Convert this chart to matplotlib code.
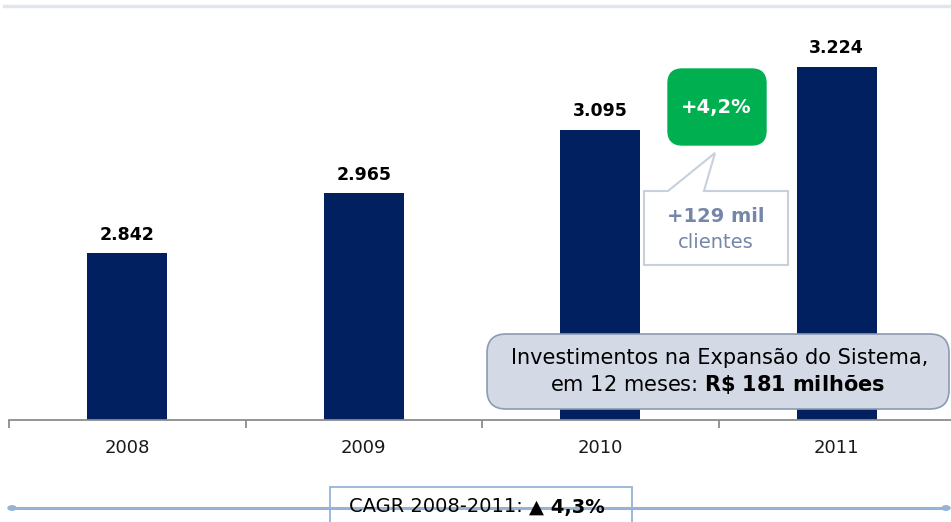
import matplotlib.pyplot as plt
from matplotlib.patches import FancyBboxPatch, Polygon, Circle
from matplotlib.lines import Line2D

years = ['2008', '2009', '2010', '2011']
clientes = [2842, 2965, 3095, 3224]
value_labels = ['2.842', '2.965', '3.095', '3.224']

W, H = 951, 522
NAVY = '#002060'
LIGHTBLUE = '#95b3d7'


def px(x, y):
    # pixel position (from top-left) -> figure fraction
    return x / W, 1 - y / H


fig = plt.figure(figsize=(W / 100, H / 100), dpi=100)
ax = fig.add_axes([9 / W, (H - 420) / H, 946 / W, 414 / H])

x = list(range(len(years)))
ax.bar(x, clientes, width=0.34, color=NAVY, zorder=2)
ax.set_xlim(-0.5, len(years) - 0.5)
ax.set_ylim(2500, 3349)

for xi, v, lab in zip(x, clientes, value_labels):
    ax.annotate(lab, (xi, v), xytext=(0, 7), textcoords='offset points',
                ha='center', va='bottom', fontsize=12.5, fontweight='bold',
                color='black')

for s in ['top', 'right', 'left']:
    ax.spines[s].set_visible(False)
ax.spines['bottom'].set_color('#8c8c8c')
ax.spines['bottom'].set_linewidth(1.3)
ax.set_yticks([])
ax.set_xticks(x)
ax.set_xticklabels(years, fontsize=13, color='#1a1a1a')
ax.set_xticks([i - 0.5 for i in x], minor=True)
ax.tick_params(axis='x', which='major', length=0, pad=14)
ax.tick_params(axis='x', which='minor', length=6, width=1.3, color='#8c8c8c')

# top decorative line
fig.add_artist(Line2D([4 / W, 1], [1 - 6 / H] * 2, color='#e0e6eb', lw=2.5))

# green growth box
gx0, gy0 = px(668, 145)
gx1, gy1 = px(766, 69)
fig.add_artist(FancyBboxPatch((gx0, gy0), gx1 - gx0, gy1 - gy0,
                              boxstyle='round,pad=0,rounding_size=0.015',
                              transform=fig.transFigure, fc='#00b050',
                              ec='#00b050', mutation_aspect=W / H))
fig.text(*px(716, 108), '+4,2%', color='white', fontsize=14,
         fontweight='bold', ha='center', va='center')

# callout with pointer
pts = [px(644, 191), px(668, 191), px(715, 153), px(704, 191),
       px(788, 191), px(788, 265), px(644, 265)]
fig.add_artist(Polygon(pts, closed=True, transform=fig.transFigure,
                       fc='white', ec='#c8d0dc', lw=1.5))
fig.text(*px(716, 217), '+129 mil', color='#7686a8', fontsize=14,
         fontweight='bold', ha='center', va='center')
fig.text(*px(716, 242), 'clientes', color='#7686a8', fontsize=14,
         ha='center', va='center')

# investment box
ix0, iy0 = px(487, 409)
ix1, iy1 = px(949, 334)
fig.add_artist(FancyBboxPatch((ix0, iy0), ix1 - ix0, iy1 - iy0,
                              boxstyle='round,pad=0,rounding_size=0.02',
                              transform=fig.transFigure, fc='#d3dae5',
                              ec='#8c9ab2', lw=1.2, mutation_aspect=W / H,
                              zorder=5))
fig.text(*px(720, 358), 'Investimentos na Expansão do Sistema,',
         fontsize=15, ha='center', va='center', zorder=6)
fig.text(*px(718, 384), 'em 12 meses: $\\bf{R\\$\\ 181\\ milhões}$',
         fontsize=15, ha='center', va='center', zorder=6)

# CAGR line at bottom
fig.add_artist(Line2D([12 / W, 946 / W], [1 - 508 / H] * 2,
                      color=LIGHTBLUE, lw=2.2))
for cx in (12, 946):
    fig.add_artist(Circle(px(cx, 508), 4 / W, transform=fig.transFigure,
                          fc=LIGHTBLUE, ec=LIGHTBLUE))
bx0, by0 = px(330, 530)
bx1, by1 = px(632, 487)
fig.add_artist(FancyBboxPatch((bx0, by0), bx1 - bx0, by1 - by0,
                              boxstyle='square,pad=0', transform=fig.transFigure,
                              fc='white', ec=LIGHTBLUE, lw=1.3))
t1 = fig.text(*px(349, 507), 'CAGR 2008-2011: ', fontsize=14,
              ha='left', va='center')
fig.canvas.draw()
bb = t1.get_window_extent()
fig.text(bb.x1 / W, 1 - 507 / H, '▲ 4,3%', fontsize=14, fontweight='bold',
         ha='left', va='center')

fig.savefig('out.png', dpi=100)
